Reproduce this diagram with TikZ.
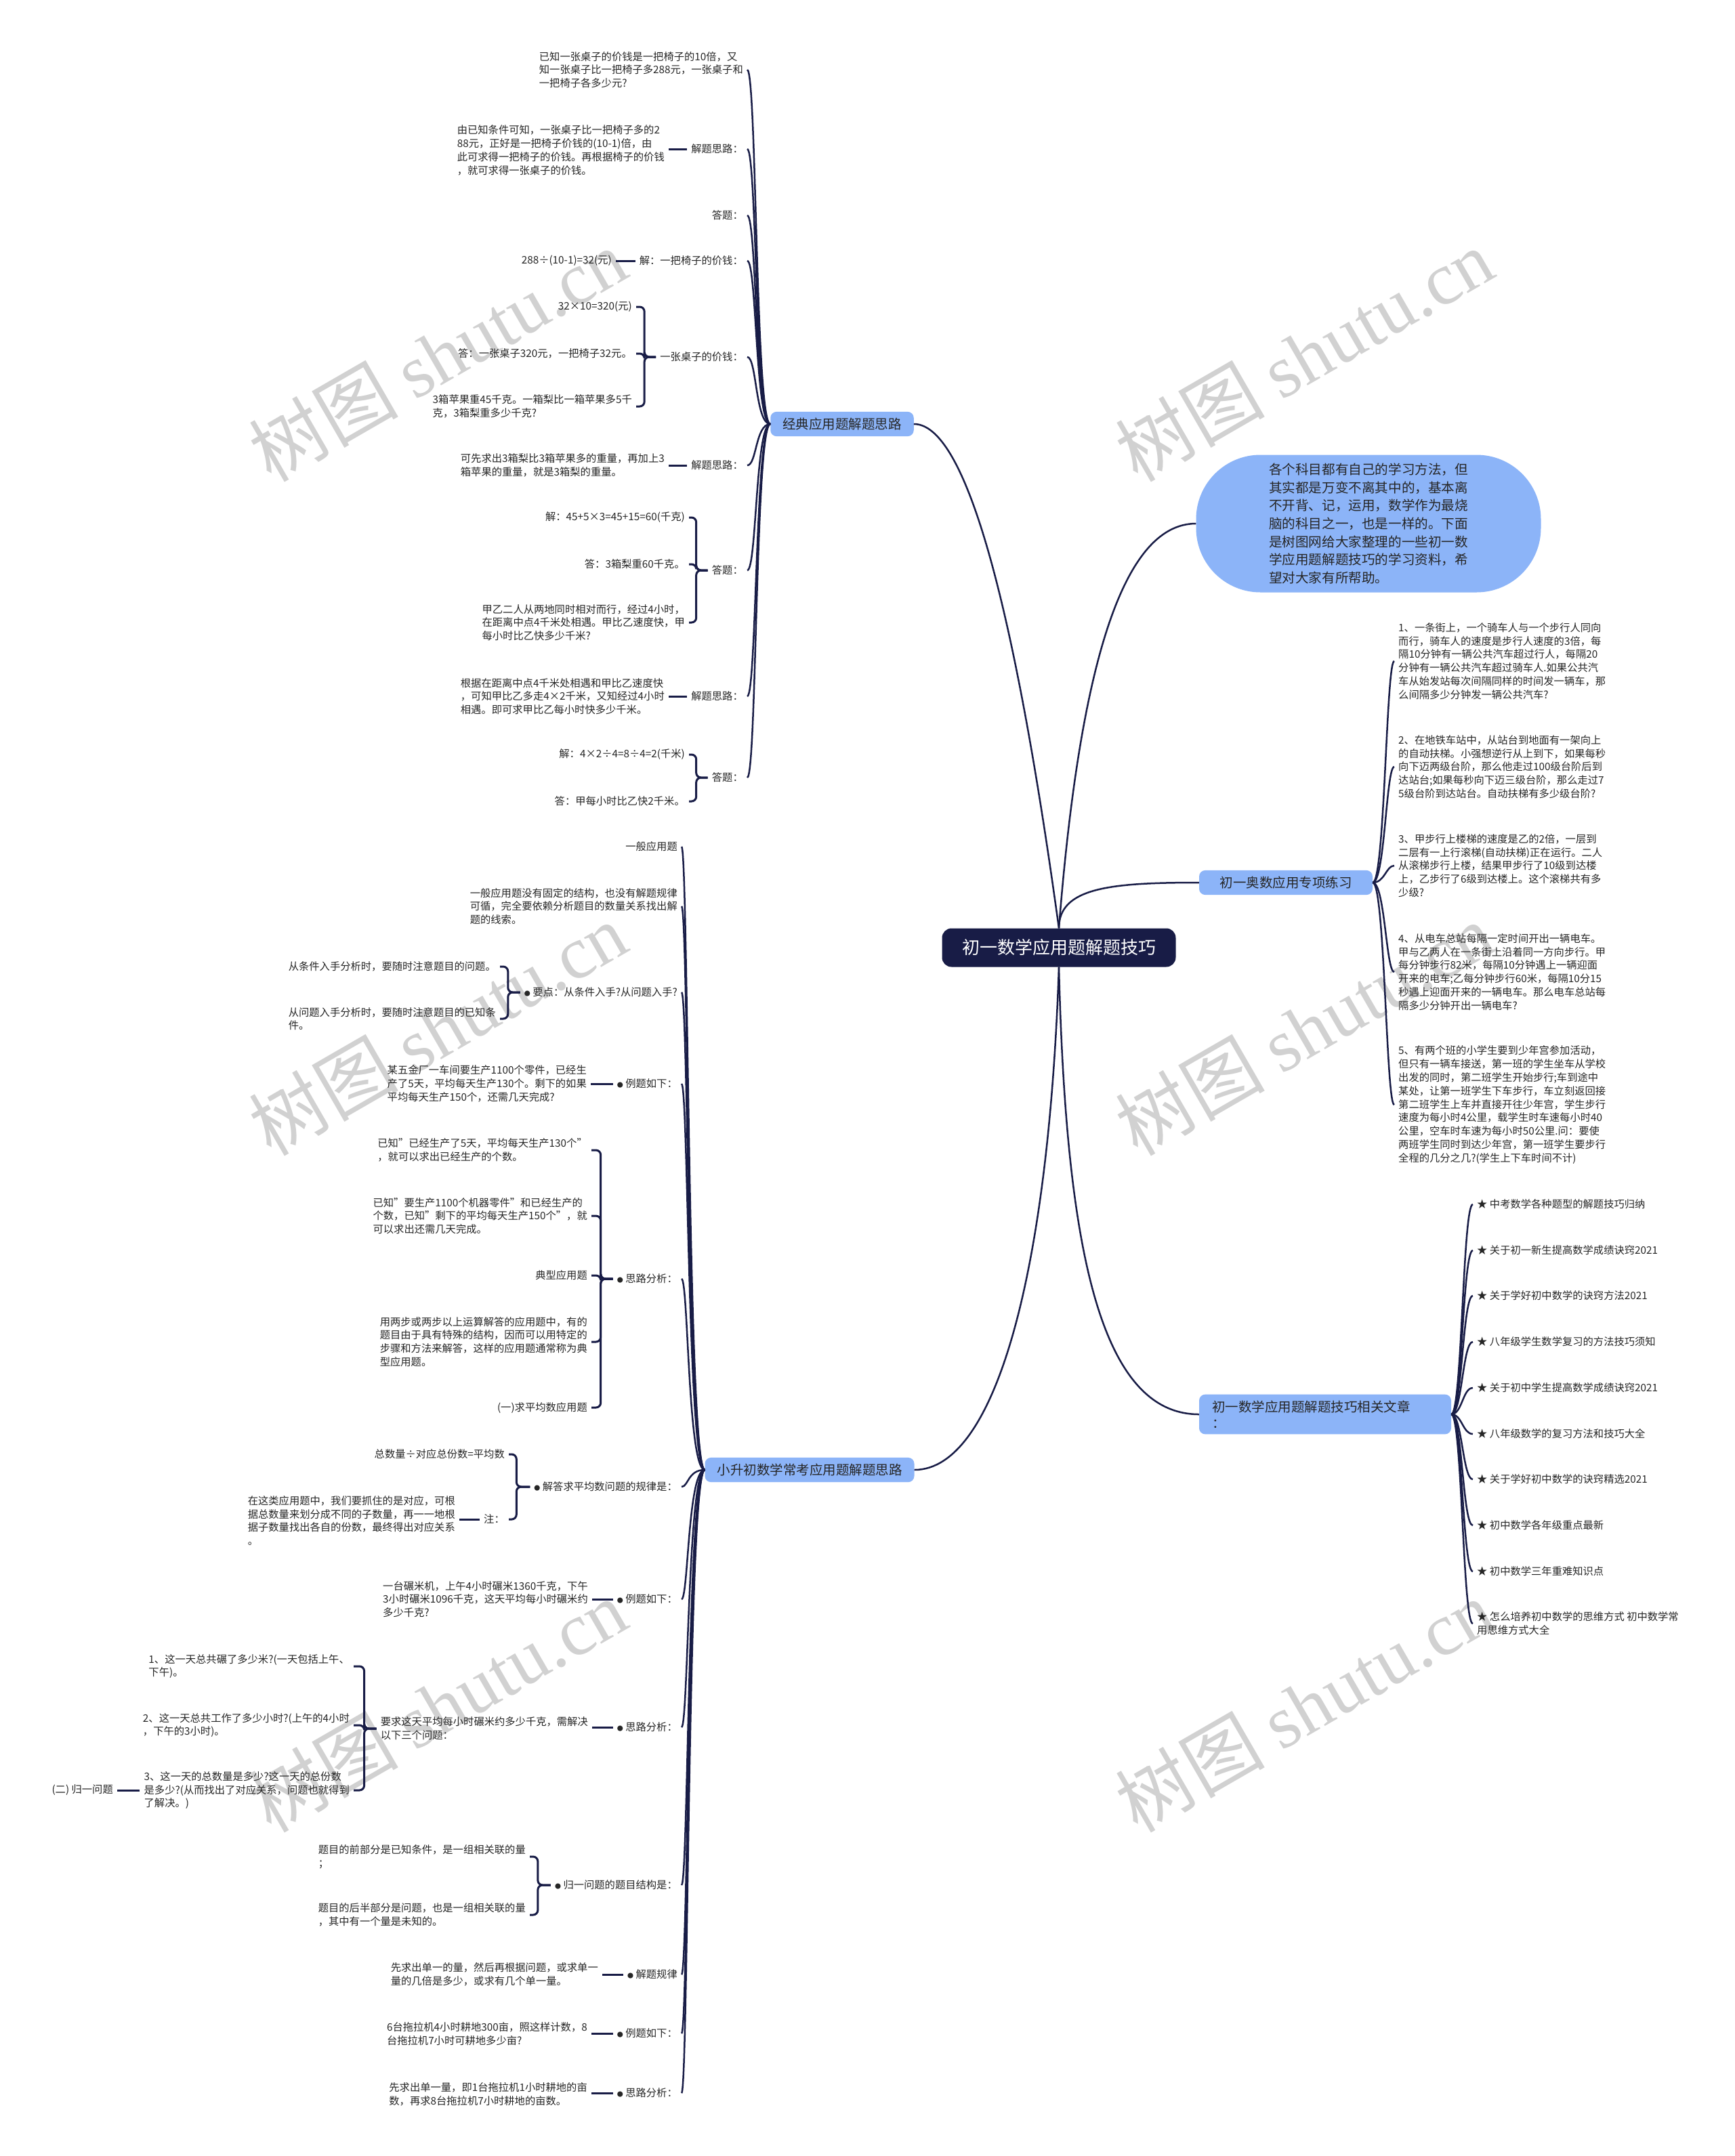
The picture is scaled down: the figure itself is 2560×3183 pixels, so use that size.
\documentclass[tikz,border=0pt]{standalone}
\usepackage{fontspec}
\setmainfont{Noto Sans CJK SC}
\newfontfamily\wmserif{Liberation Serif}
\usetikzlibrary{backgrounds}
\definecolor{navy}{RGB}{24,28,70}
\definecolor{boxblue}{RGB}{140,180,248}
\definecolor{inkgray}{RGB}{38,38,38}
\newcommand{\dotb}{{\fontsize{9}{9}\selectfont ●}}

\tikzset{
  rootbox/.style={fill=navy, text=white, rounded corners=14pt, minimum width=345pt, minimum height=57pt, font=\fontsize{26}{30}\selectfont},
  branchbox/.style={fill=boxblue, text=inkgray, rounded corners=9pt, inner xsep=18pt, inner ysep=9pt, align=left, font=\fontsize{19.5}{24}\selectfont},
  leaf/.style={text=inkgray, inner sep=6pt, align=left, font=\fontsize{15.3}{19.8}\selectfont},
  mainlink/.style={draw=navy, line width=2.5pt},
  spine/.style={draw=navy, line width=2.5pt},
  bline/.style={draw=navy, line width=3pt, rounded corners=7pt},
  wmark/.style={text=black!18, rotate=30, font=\fontsize{110}{120}\selectfont}
}

\begin{document}
\begin{tikzpicture}[x=1pt, y=-1pt]

  % 画布
  \useasboundingbox (0,0) rectangle (2560,3183);
  \fill[white] (0,0) rectangle (2560,3183);

  % 水印
  \node[wmark] (wm1) at (646,524) {树图 {\wmserif shutu.cn}};
  \node[wmark] (wm2) at (1925,524) {树图 {\wmserif shutu.cn}};
  \node[wmark] (wm3) at (646,1519) {树图 {\wmserif shutu.cn}};
  \node[wmark] (wm4) at (1925,1519) {树图 {\wmserif shutu.cn}};
  \node[wmark] (wm5) at (646,2518) {树图 {\wmserif shutu.cn}};
  \node[wmark] (wm6) at (1925,2518) {树图 {\wmserif shutu.cn}};

  % 中心主题与一级分支
  \node[rootbox] (root) at (1563,1399) {初一数学应用题解题技巧};
  \node[branchbox] (jd) at (1243,626) {经典应用题解题思路};
  \node[branchbox, rounded corners=95pt, minimum width=509pt, minimum height=203pt,
        font=\fontsize{19.6}{26.7}\selectfont] (intro) at (2020,773)
    {各个科目都有自己的学习方法，但\\其实都是万变不离其中的，基本离\\不开背、记，运用，数学作为最烧\\脑的科目之一，也是一样的。下面\\是树图网给大家整理的一些初一数\\学应用题解题技巧的学习资料，希\\望对大家有所帮助。};
  \node[branchbox, minimum width=256pt] (ao) at (1898,1303) {初一奥数应用专项练习};
  \node[branchbox, minimum width=372pt, text width=334pt] (wz) at (1956,2088) {初一数学应用题解题技巧相关文章\\：};
  \node[branchbox] (xs) at (1195,2170) {小升初数学常考应用题解题思路};

  % 经典应用题解题思路
  \node[leaf, anchor=east] (jd1) at (1103,103) {已知一张桌子的价钱是一把椅子的10倍，又\\知一张桌子比一把椅子多288元，一张桌子和\\一把椅子各多少元?};
  \node[leaf, anchor=east] (jd2) at (1103,220) {解题思路：};
  \node[leaf, anchor=east] (jd2a) at (987,222) {由已知条件可知，一张桌子比一把椅子多的2\\88元，正好是一把椅子价钱的(10-1)倍，由\\此可求得一把椅子的价钱。再根据椅子的价钱\\，就可求得一张桌子的价钱。};
  \node[leaf, anchor=east] (jd3) at (1103,318) {答题：};
  \node[leaf, anchor=east] (jd4) at (1103,385) {解：一把椅子的价钱：};
  \node[leaf, anchor=east] (jd4a) at (909,385) {288÷(10-1)=32(元)};
  \node[leaf, anchor=east] (jd5) at (1103,527) {一张桌子的价钱：};
  \node[leaf, anchor=east] (jd5a) at (939,453) {32×10=320(元)};
  \node[leaf, anchor=east] (jd5b) at (939,522) {答：一张桌子320元，一把椅子32元。};
  \node[leaf, anchor=east] (jd5c) at (939,600) {3箱苹果重45千克。一箱梨比一箱苹果多5千\\克，3箱梨重多少千克?};
  \node[leaf, anchor=east] (jd6) at (1103,687) {解题思路：};
  \node[leaf, anchor=east] (jd6a) at (987,687) {可先求出3箱梨比3箱苹果多的重量，再加上3\\箱苹果的重量，就是3箱梨的重量。};
  \node[leaf, anchor=east] (jd7) at (1103,842) {答题：};
  \node[leaf, anchor=east] (jd7a) at (1017,764) {解：45+5×3=45+15=60(千克)};
  \node[leaf, anchor=east] (jd7b) at (1017,833) {答：3箱梨重60千克。};
  \node[leaf, anchor=east] (jd7c) at (1017,919) {甲乙二人从两地同时相对而行，经过4小时，\\在距离中点4千米处相遇。甲比乙速度快，甲\\每小时比乙快多少千米?};
  \node[leaf, anchor=east] (jd8) at (1103,1028) {解题思路：};
  \node[leaf, anchor=east] (jd8a) at (987,1028) {根据在距离中点4千米处相遇和甲比乙速度快\\，可知甲比乙多走4×2千米，又知经过4小时\\相遇。即可求甲比乙每小时快多少千米。};
  \node[leaf, anchor=east] (jd9) at (1103,1148) {答题：};
  \node[leaf, anchor=east] (jd9a) at (1017,1114) {解：4×2÷4=8÷4=2(千米)};
  \node[leaf, anchor=east] (jd9b) at (1017,1183) {答：甲每小时比乙快2千米。};

  % 小升初数学常考应用题解题思路
  \node[leaf, anchor=east] (xs1) at (1006,1250) {一般应用题};
  \node[leaf, anchor=east] (xs2) at (1006,1338) {一般应用题没有固定的结构，也没有解题规律\\可循，完全要依赖分析题目的数量关系找出解\\题的线索。};
  \node[leaf, anchor=east] (xs3) at (1006,1465) {\dotb\ 要点：从条件入手?从问题入手?};
  \node[leaf, anchor=east] (xs3a) at (738,1427) {从条件入手分析时，要随时注意题目的问题。};
  \node[leaf, anchor=east] (xs3b) at (738,1504) {从问题入手分析时，要随时注意题目的已知条\\件。};
  \node[leaf, anchor=east] (xs4) at (1006,1600) {\dotb\ 例题如下：};
  \node[leaf, anchor=east] (xs4a) at (872,1600) {某五金厂一车间要生产1100个零件，已经生\\产了5天，平均每天生产130个。剩下的如果\\平均每天生产150个，还需几天完成?};
  \node[leaf, anchor=east] (xs5) at (1006,1888) {\dotb\ 思路分析：};
  \node[leaf, anchor=east] (xs5a) at (873,1698) {已知"已经生产了5天，平均每天生产130个"\\，就可以求出已经生产的个数。};
  \node[leaf, anchor=east] (xs5b) at (873,1795) {已知"要生产1100个机器零件"和已经生产的\\个数，已知"剩下的平均每天生产150个"，就\\可以求出还需几天完成。};
  \node[leaf, anchor=east] (xs5c) at (873,1883) {典型应用题};
  \node[leaf, anchor=east] (xs5d) at (873,1981) {用两步或两步以上运算解答的应用题中，有的\\题目由于具有特殊的结构，因而可以用特定的\\步骤和方法来解答，这样的应用题通常称为典\\型应用题。};
  \node[leaf, anchor=east] (xs5e) at (873,2078) {(一)求平均数应用题};
  \node[leaf, anchor=east] (xs6) at (1006,2195) {\dotb\ 解答求平均数问题的规律是：};
  \node[leaf, anchor=east] (xs6a) at (751,2147) {总数量÷对应总份数=平均数};
  \node[leaf, anchor=east] (xs6b) at (751,2243) {注：};
  \node[leaf, anchor=east] (xs6c) at (678,2245) {在这类应用题中，我们要抓住的是对应，可根\\据总数量来划分成不同的子数量，再一一地根\\据子数量找出各自的份数，最终得出对应关系\\。};
  \node[leaf, anchor=east] (xs7) at (1006,2361) {\dotb\ 例题如下：};
  \node[leaf, anchor=east] (xs7a) at (874,2361) {一台碾米机，上午4小时碾米1360千克，下午\\3小时碾米1096千克，这天平均每小时碾米约\\多少千克?};
  \node[leaf, anchor=east] (xs8) at (1006,2550) {\dotb\ 思路分析：};
  \node[leaf, anchor=east] (xs8a) at (874,2552) {要求这天平均每小时碾米约多少千克，需解决\\以下三个问题：};
  \node[leaf, anchor=east] (xs8b) at (522,2460) {1、这一天总共碾了多少米?(一天包括上午、\\下午)。};
  \node[leaf, anchor=east] (xs8c) at (522,2547) {2、这一天总共工作了多少小时?(上午的4小时\\，下午的3小时)。};
  \node[leaf, anchor=east] (xs8d) at (522,2643) {3、这一天的总数量是多少?这一天的总份数\\是多少?(从而找出了对应关系，问题也就得到\\了解决。)};
  \node[leaf, anchor=east] (xs8e) at (173,2643) {(二) 归一问题};
  \node[leaf, anchor=east] (xs9) at (1006,2783) {\dotb\ 归一问题的题目结构是：};
  \node[leaf, anchor=east] (xs9a) at (782,2741) {题目的前部分是已知条件，是一组相关联的量\\；};
  \node[leaf, anchor=east] (xs9b) at (782,2827) {题目的后半部分是问题，也是一组相关联的量\\，其中有一个量是未知的。};
  \node[leaf, anchor=east] (xs10) at (1006,2915) {\dotb\ 解题规律};
  \node[leaf, anchor=east] (xs10a) at (889,2915) {先求出单一的量，然后再根据问题，或求单一\\量的几倍是多少，或求有几个单一量。};
  \node[leaf, anchor=east] (xs11) at (1006,3002) {\dotb\ 例题如下：};
  \node[leaf, anchor=east] (xs11a) at (873,3003) {6台拖拉机4小时耕地300亩，照这样计数，8\\台拖拉机7小时可耕地多少亩?};
  \node[leaf, anchor=east] (xs12) at (1006,3090) {\dotb\ 思路分析：};
  \node[leaf, anchor=east] (xs12a) at (873,3092) {先求出单一量，即1台拖拉机1小时耕地的亩\\数，再求8台拖拉机7小时耕地的亩数。};

  % 初一奥数应用专项练习
  \node[leaf, anchor=west] (ao1) at (2058,976) {1、一条街上，一个骑车人与一个步行人同向\\而行，骑车人的速度是步行人速度的3倍，每\\隔10分钟有一辆公共汽车超过行人，每隔20\\分钟有一辆公共汽车超过骑车人.如果公共汽\\车从始发站每次间隔同样的时间发一辆车，那\\么间隔多少分钟发一辆公共汽车?};
  \node[leaf, anchor=west] (ao2) at (2058,1132) {2、在地铁车站中，从站台到地面有一架向上\\的自动扶梯。小强想逆行从上到下，如果每秒\\向下迈两级台阶，那么他走过100级台阶后到\\达站台;如果每秒向下迈三级台阶，那么走过7\\5级台阶到达站台。自动扶梯有多少级台阶?};
  \node[leaf, anchor=west] (ao3) at (2058,1278) {3、甲步行上楼梯的速度是乙的2倍，一层到\\二层有一上行滚梯(自动扶梯)正在运行。二人\\从滚梯步行上楼，结果甲步行了10级到达楼\\上，乙步行了6级到达楼上。这个滚梯共有多\\少级?};
  \node[leaf, anchor=west] (ao4) at (2058,1435) {4、从电车总站每隔一定时间开出一辆电车。\\甲与乙两人在一条街上沿着同一方向步行。甲\\每分钟步行82米，每隔10分钟遇上一辆迎面\\开来的电车;乙每分钟步行60米，每隔10分15\\秒遇上迎面开来的一辆电车。那么电车总站每\\隔多少分钟开出一辆电车?};
  \node[leaf, anchor=west] (ao5) at (2058,1631) {5、有两个班的小学生要到少年宫参加活动，\\但只有一辆车接送，第一班的学生坐车从学校\\出发的同时，第二班学生开始步行;车到途中\\某处，让第一班学生下车步行，车立刻返回接\\第二班学生上车并直接开往少年宫，学生步行\\速度为每小时4公里，载学生时车速每小时40\\公里，空车时车速为每小时50公里.问：要使\\两班学生同时到达少年宫，第一班学生要步行\\全程的几分之几?(学生上下车时间不计)};

  % 相关文章
  \node[leaf, anchor=west] (wz1) at (2174,1778) {★ 中考数学各种题型的解题技巧归纳};
  \node[leaf, anchor=west] (wz2) at (2174,1846) {★ 关于初一新生提高数学成绩诀窍2021};
  \node[leaf, anchor=west] (wz3) at (2174,1913) {★ 关于学好初中数学的诀窍方法2021};
  \node[leaf, anchor=west] (wz4) at (2174,1981) {★ 八年级学生数学复习的方法技巧须知};
  \node[leaf, anchor=west] (wz5) at (2174,2049) {★ 关于初中学生提高数学成绩诀窍2021};
  \node[leaf, anchor=west] (wz6) at (2174,2117) {★ 八年级数学的复习方法和技巧大全};
  \node[leaf, anchor=west] (wz7) at (2174,2184) {★ 关于学好初中数学的诀窍精选2021};
  \node[leaf, anchor=west] (wz8) at (2174,2252) {★ 初中数学各年级重点最新};
  \node[leaf, anchor=west] (wz9) at (2174,2320) {★ 初中数学三年重难知识点};
  \node[leaf, anchor=west] (wz10) at (2174,2397) {★ 怎么培养初中数学的思维方式 初中数学常\\用思维方式大全};

  % 中心连线
  \draw[mainlink] (root.north) .. controls +(-71,-517) and +(71,0) .. (jd.east);
  \draw[mainlink] (root.north) .. controls +(30,-380) and +(-110,0) .. (intro.west);
  \draw[mainlink] (root.north) .. controls +(0,-60) and +(-130,0) .. (ao.west);
  \draw[mainlink] (root.south) .. controls +(10,400) and +(-150,0) .. (wz.west);
  \draw[mainlink] (root.south) .. controls +(-15,450) and +(120,0) .. (xs.east);

  % 一级分支的弧线
  \foreach \n in {jd1,jd2,jd3,jd4,jd5,jd6,jd7,jd8,jd9}
    \draw[spine] (jd.west) .. controls +(-22,0) and +(14,0) .. (\n.east);
  \foreach \n in {xs1,xs2,xs3,xs4,xs5,xs6,xs7,xs8,xs9,xs10,xs11,xs12}
    \draw[spine] (xs.west) .. controls +(-25,0) and +(10,0) .. (\n.east);
  \foreach \n in {ao1,ao2,ao3,ao4,ao5}
    \draw[spine] (ao.east) .. controls +(18,0) and +(-12,0) .. (\n.west);
  \foreach \n in {wz1,wz2,wz3,wz4,wz5,wz6,wz7,wz8,wz9,wz10}
    \draw[spine] (wz.east) .. controls +(16,0) and +(-15,0) .. (\n.west);

  % 单个子项的横线
  \draw[bline] (jd2.west) -- (jd2a.east |- jd2.west);
  \draw[bline] (jd4.west) -- (jd4a.east |- jd4.west);
  \draw[bline] (jd6.west) -- (jd6a.east |- jd6.west);
  \draw[bline] (jd8.west) -- (jd8a.east |- jd8.west);
  \draw[bline] (xs4.west) -- (xs4a.east |- xs4.west);
  \draw[bline] (xs6b.west) -- (xs6c.east |- xs6b.west);
  \draw[bline] (xs7.west) -- (xs7a.east |- xs7.west);
  \draw[bline] (xs8.west) -- (xs8a.east |- xs8.west);
  \draw[bline] (xs8d.west) -- (xs8e.east |- xs8d.west);
  \draw[bline] (xs10.west) -- (xs10a.east |- xs10.west);
  \draw[bline] (xs11.west) -- (xs11a.east |- xs11.west);
  \draw[bline] (xs12.west) -- (xs12a.east |- xs12.west);

  % 括号连线
  \foreach \n in {jd5a,jd5b,jd5c}
    \draw[bline] (jd5.west) -- ++(-17,0) |- (\n.east);
  \foreach \n in {jd7a,jd7b,jd7c}
    \draw[bline] (jd7.west) -- ++(-17,0) |- (\n.east);
  \foreach \n in {jd9a,jd9b}
    \draw[bline] (jd9.west) -- ++(-17,0) |- (\n.east);
  \foreach \n in {xs3a,xs3b}
    \draw[bline] (xs3.west) -- ++(-18,0) |- (\n.east);
  \foreach \n in {xs5a,xs5b,xs5c,xs5d,xs5e}
    \draw[bline] (xs5.west) -- ++(-18,0) |- (\n.east);
  \foreach \n in {xs6a,xs6b}
    \draw[bline] (xs6.west) -- ++(-20,0) |- (\n.east);
  \foreach \n in {xs8b,xs8c,xs8d}
    \draw[bline] (xs8a.west) -- ++(-18,0) |- (\n.east);
  \foreach \n in {xs9a,xs9b}
    \draw[bline] (xs9.west) -- ++(-19,0) |- (\n.east);

\end{tikzpicture}
\end{document}
